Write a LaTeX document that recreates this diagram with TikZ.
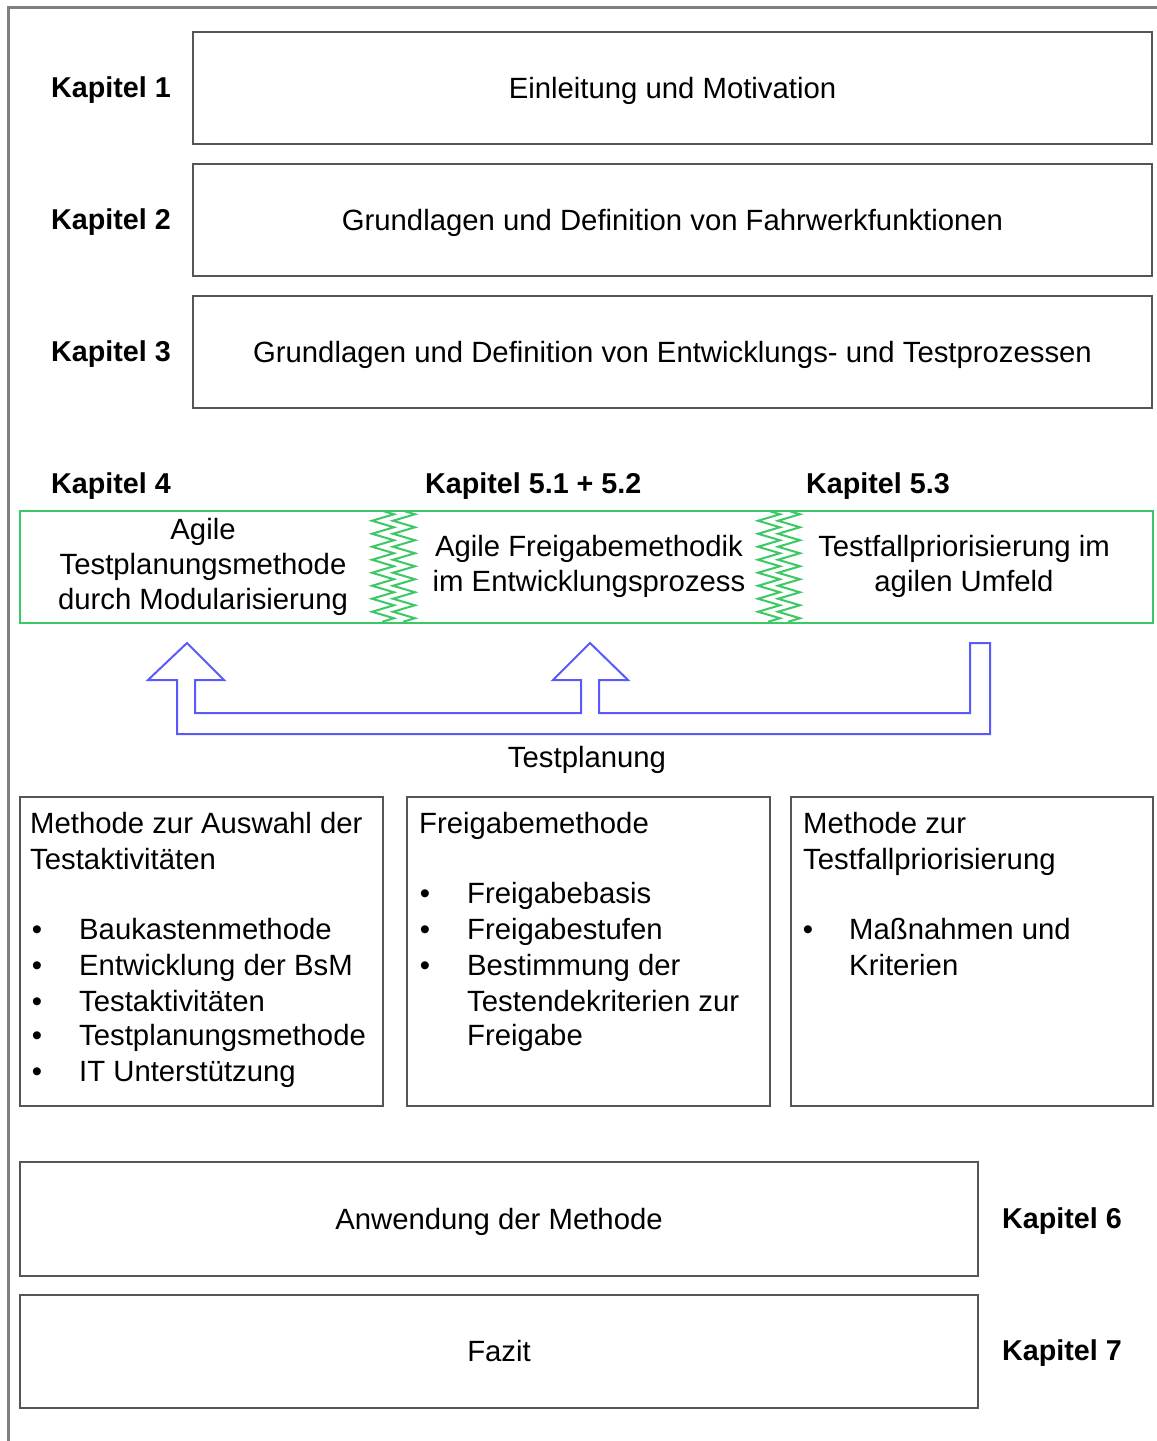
\documentclass[tikz,border=0pt]{standalone}
\usepackage{fontspec}
\setmainfont{Liberation Sans}
\usetikzlibrary{decorations.pathmorphing}
\definecolor{framegray}{RGB}{128,128,128}
\definecolor{boxline}{RGB}{85,85,85}
\definecolor{agile}{RGB}{60,200,100}
\definecolor{plan}{RGB}{90,90,250}

\begin{document}
\begin{tikzpicture}[x=1pt,y=-1pt,
  txt/.style={inner sep=0pt, font=\fontsize{29.3}{35}\selectfont},
  kap/.style={inner sep=0pt, font=\fontsize{28.7}{35}\selectfont\bfseries, anchor=base west},
  box/.style={draw=boxline, line width=2pt, inner sep=0pt, text height=20pt, text depth=0pt,
    font=\fontsize{29.3}{35}\selectfont},
  zz/.style={agile, line width=2pt, decorate, decoration={zigzag, segment length=13pt, amplitude=11pt}},
]
\useasboundingbox (0,0) rectangle (1157,1441);
\fill[white] (0,0) rectangle (1157,1441);

% outer frame
\draw[framegray, line width=3pt] (8,1441) -- (8,7) -- (1157,7);

% chapters 1-3
\node[box, minimum width=959pt, minimum height=112pt] (c1) at (672.5,88) {Einleitung und Motivation};
\node[box, minimum width=959pt, minimum height=112pt] (c2) at (672.5,220) {Grundlagen und Definition von Fahrwerkfunktionen};
\node[box, minimum width=959pt, minimum height=112pt] (c3) at (672.5,352) {Grundlagen und Definition von Entwicklungs- und Testprozessen};
\node[kap] (k1) at (51,97) {Kapitel 1};
\node[kap] (k2) at (51,229) {Kapitel 2};
\node[kap] (k3) at (51,361) {Kapitel 3};

% chapters 4 and 5
\node[kap] (k4) at (51,493) {Kapitel 4};
\node[kap] (k5a) at (425,493) {Kapitel 5.1 + 5.2};
\node[kap] (k5b) at (806,493) {Kapitel 5.3};

\draw[agile, line width=2pt] (20,511) rectangle (1153,623);
\draw[zz] (383,511) -- (383,623);
\draw[zz] (404,511) -- (404,623);
\draw[zz] (769,511) -- (769,623);
\draw[zz] (789,511) -- (789,623);

\node[txt, align=center] (g1) at (203,567) {Agile\\Testplanungsmethode\\durch Modularisierung};
\node[txt, align=center] (g2) at (589,566) {Agile Freigabemethodik\\im Entwicklungsprozess};
\node[txt, align=center] (g3) at (964,566) {Testfallpriorisierung im\\agilen Umfeld};

% test planning feedback arrow
\draw[plan, line width=2pt, line join=miter]
  (970,643) -- (990,643) -- (990,734) -- (177,734) -- (177,680) -- (148,680) -- (187,643)
  -- (224,680) -- (195,680) -- (195,713) -- (581,713) -- (581,680) -- (553,680) -- (590,643)
  -- (628,680) -- (599,680) -- (599,713) -- (970,713) -- cycle;
\node[txt, anchor=base] (tp) at (587,767) {Testplanung};

% method boxes
\node[box, minimum width=363pt, minimum height=309pt] (mA) at (201.5,951.5) {};
\node[box, minimum width=363pt, minimum height=309pt] (mB) at (588.5,951.5) {};
\node[box, minimum width=362pt, minimum height=309pt] (mC) at (972,951.5) {};

\foreach \n/\y/\t in {1/823/Methode zur Auswahl der, 2/859/Testaktivitäten}
  \node[txt, anchor=base west] (a\n) at (30,{\y+10}) {\t};
\foreach \n/\y/\t in {1/929/Baukastenmethode, 2/965/Entwicklung der BsM, 3/1001/Testaktivitäten,
    4/1035/Testplanungsmethode, 5/1071/IT Unterstützung}{
  \node[txt, anchor=base] (ab\n) at (37,{\y+10}) {•};
  \node[txt, anchor=base west] (ai\n) at (79,{\y+10}) {\t};
}

\node[txt, anchor=base west] (b1) at (419,833) {Freigabemethode};
\foreach \n/\y in {1/893, 2/929, 3/965}
  \node[txt, anchor=base] (bb\n) at (425,{\y+10}) {•};
\foreach \n/\y/\t in {1/893/Freigabebasis, 2/929/Freigabestufen, 3/965/Bestimmung der,
    4/1001/Testendekriterien zur, 5/1035/Freigabe}
  \node[txt, anchor=base west] (bi\n) at (467,{\y+10}) {\t};

\foreach \n/\y/\t in {1/823/Methode zur, 2/859/Testfallpriorisierung}
  \node[txt, anchor=base west] (c\n) at (803,{\y+10}) {\t};
\node[txt, anchor=base] (cb1) at (808,939) {•};
\node[txt, anchor=base west] (ci1) at (849,939) {Maßnahmen und};
\node[txt, anchor=base west] (ci2) at (849,975) {Kriterien};

% chapters 6 and 7
\node[box, minimum width=958pt, minimum height=114pt] (c6) at (499,1219) {Anwendung der Methode};
\node[box, minimum width=958pt, minimum height=113pt] (c7) at (499,1351.5) {Fazit};
\node[kap] (k6) at (1002,1228) {Kapitel 6};
\node[kap] (k7) at (1002,1360) {Kapitel 7};
\end{tikzpicture}
\end{document}
